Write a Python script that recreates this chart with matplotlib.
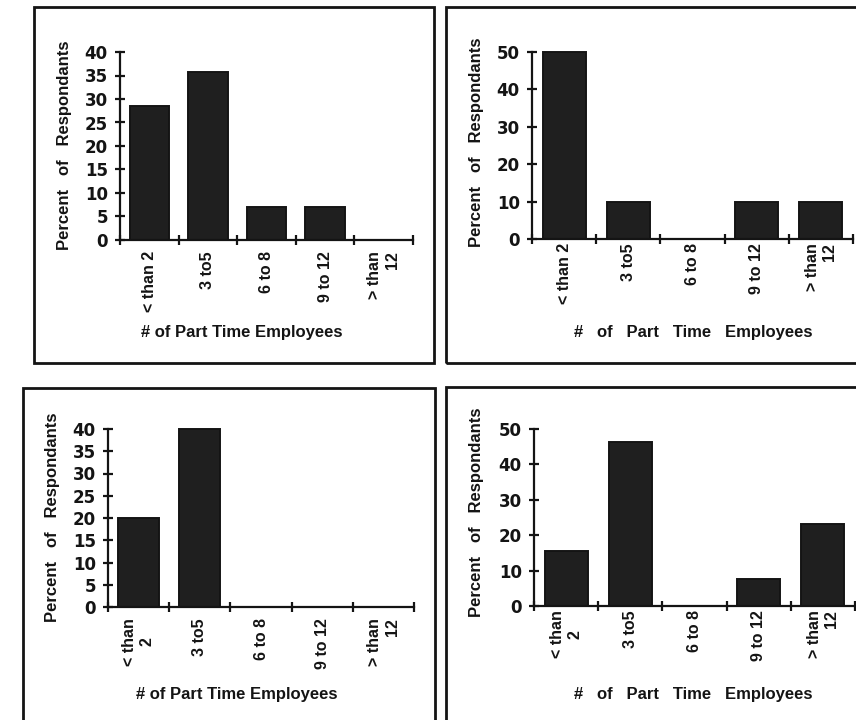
import matplotlib
matplotlib.use("Agg")
import matplotlib.pyplot as plt
from matplotlib.patches import Rectangle

# Survey categories and per-panel results (percent of respondants)
categories = ["< than 2", "3 to5", "6 to 8", "9 to 12", "> than\n12"]
categories_wrapped = ["< than\n2", "3 to5", "6 to 8", "9 to 12", "> than\n12"]

panel_a = [28.6, 35.7, 7.1, 7.1, 0.0]
panel_b = [50.0, 10.0, 0.0, 10.0, 10.0]
panel_c = [20.0, 40.0, 0.0, 0.0, 0.0]
panel_d = [15.4, 46.2, 0.0, 7.7, 23.1]

yticks_40 = [0, 5, 10, 15, 20, 25, 30, 35, 40]
yticks_50 = [0, 10, 20, 30, 40, 50]

ylabel_tight = "Percent   of   Respondants"
xlabel_tight = "# of Part Time Employees"
xlabel_wide = "#   of   Part   Time   Employees"

W, H = 856, 720
INK = "#141414"
BAR = "#1f1f1f"
FONT = "Liberation Sans"

fig = plt.figure(figsize=(W / 100, H / 100), dpi=100)
fig.patch.set_facecolor("white")


def rect(l, t, r, b):
    return [l / W, 1 - b / H, (r - l) / W, (b - t) / H]


def fpos(x, y):
    return x / W, 1 - y / H


def frame(l, t, r, b):
    fig.patches.append(Rectangle((l / W, 1 - b / H), (r - l) / W, (b - t) / H,
                                 transform=fig.transFigure, fill=False,
                                 edgecolor=INK, linewidth=2.0, clip_on=False))


def panel(box, axrect, values, labels, yticks, xpad, ylab_xy, xlab_xy, xlab):
    frame(*box)
    ax = fig.add_axes(rect(*axrect))
    ax.set_facecolor("none")
    n = len(values)
    xs = list(range(n))
    ax.bar(xs, values, width=0.67, color=BAR, edgecolor=INK, linewidth=1.4,
           clip_on=False, zorder=3)
    ax.set_xlim(-0.5, n - 0.5)
    ax.set_ylim(yticks[0], yticks[-1])
    for s in ("top", "right"):
        ax.spines[s].set_visible(False)
    for s in ("left", "bottom"):
        ax.spines[s].set_linewidth(1.6)
        ax.spines[s].set_color(INK)
        ax.spines[s].set_zorder(4)
    # category boundaries carry the tick marks, centres carry the labels
    ax.set_xticks([i - 0.5 for i in range(n + 1)])
    ax.set_xticklabels([])
    ax.set_xticks(xs, minor=True)
    texts = ax.set_xticklabels(labels, minor=True, rotation=90,
                               fontfamily=FONT, fontweight="bold",
                               fontsize=11.5, color=INK)
    for t in texts:
        t.set_multialignment("right" if t.get_text().startswith(">") else "center")
    ax.tick_params(axis="x", which="major", direction="inout", length=7.5,
                   width=1.6, color=INK)
    ax.tick_params(axis="x", which="minor", length=0, pad=xpad)
    ax.set_yticks(yticks)
    ax.set_yticklabels([str(v) for v in yticks], fontfamily="DejaVu Sans",
                       fontweight="bold", fontsize=12, color=INK)
    ax.tick_params(axis="y", direction="inout", length=7.5, width=1.6,
                   color=INK, pad=5)
    fig.text(*fpos(*ylab_xy), ylabel_tight, rotation=90, ha="center",
             va="center", fontfamily=FONT, fontweight="bold", fontsize=12,
             color=INK)
    fig.text(*fpos(*xlab_xy), xlab, ha="center", va="center",
             fontfamily=FONT, fontweight="bold", fontsize=12, color=INK)
    return ax


panel((34, 7, 434, 363), (120, 52, 413, 240), panel_a, categories,
      yticks_40, 8, (65, 145), (242, 333), xlabel_tight)
panel((446, 7, 880, 363), (532, 52, 853, 239), panel_b, categories,
      yticks_50, 3, (477, 142), (693, 332), xlabel_wide)
panel((23, 388, 435, 740), (108, 429, 414, 607), panel_c, categories_wrapped,
      yticks_40, 8, (53, 517), (237, 695), xlabel_tight)
panel((446, 387, 880, 740), (534, 429, 855, 606), panel_d, categories_wrapped,
      yticks_50, 3, (477, 512), (693, 695), xlabel_wide)

fig.savefig("out.png", dpi=100, facecolor="white")
